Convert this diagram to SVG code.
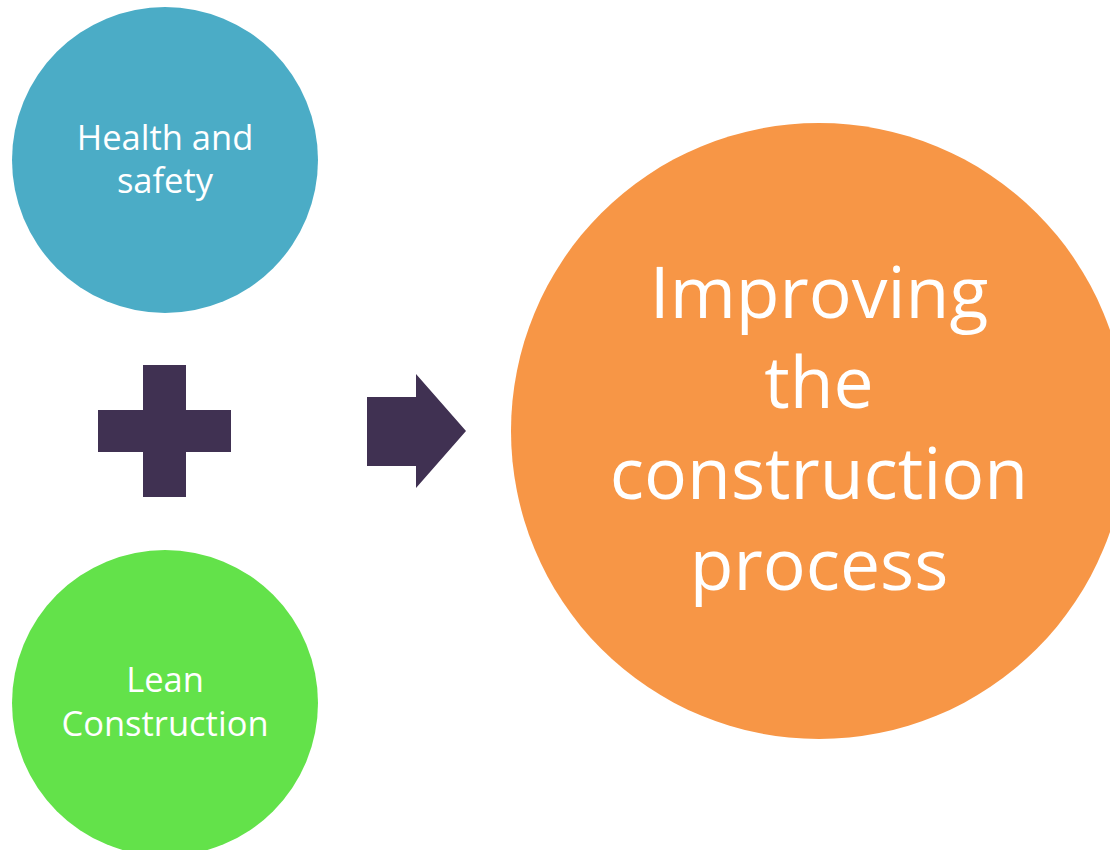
<svg xmlns="http://www.w3.org/2000/svg" width="1110" height="850" viewBox="0 0 1110 850">
<style>
.lbl{font-family:"Open Sans","Noto Sans","DejaVu Sans",sans-serif;fill:#ffffff;text-anchor:middle}
.sm{font-size:34.5px}
.lg{font-size:71.5px}
.sym{fill:#403152}
</style>
<rect width="1110" height="850" fill="#ffffff"/>
<g id="health">
<circle cx="165" cy="160" r="153" fill="#4BACC6"/>
<text class="lbl sm" x="165" y="150">Health and</text>
<text class="lbl sm" x="165" y="193">safety</text>
</g>
<g id="lean">
<circle cx="165" cy="703" r="153" fill="#63E24A"/>
<text class="lbl sm" x="165" y="692">Lean</text>
<text class="lbl sm" x="165" y="736">Construction</text>
</g>
<g id="result">
<circle cx="819" cy="431" r="308" fill="#F79646"/>
<text class="lbl lg" x="819" y="318">Improving</text>
<text class="lbl lg" x="819" y="408">the</text>
<text class="lbl lg" x="819" y="499">construction</text>
<text class="lbl lg" x="819" y="590">process</text>
</g>
<g id="connectors">
<g id="plus">
<path class="sym" d="M143,365 H186 V410 H231 V452 H186 V497 H143 V452 H98 V410 H143 Z"/>
</g>
<g id="arrow">
<path class="sym" d="M367,397 H416 V374 L466,431 L416,488 V466 H367 Z"/>
</g>
</g>
</svg>
